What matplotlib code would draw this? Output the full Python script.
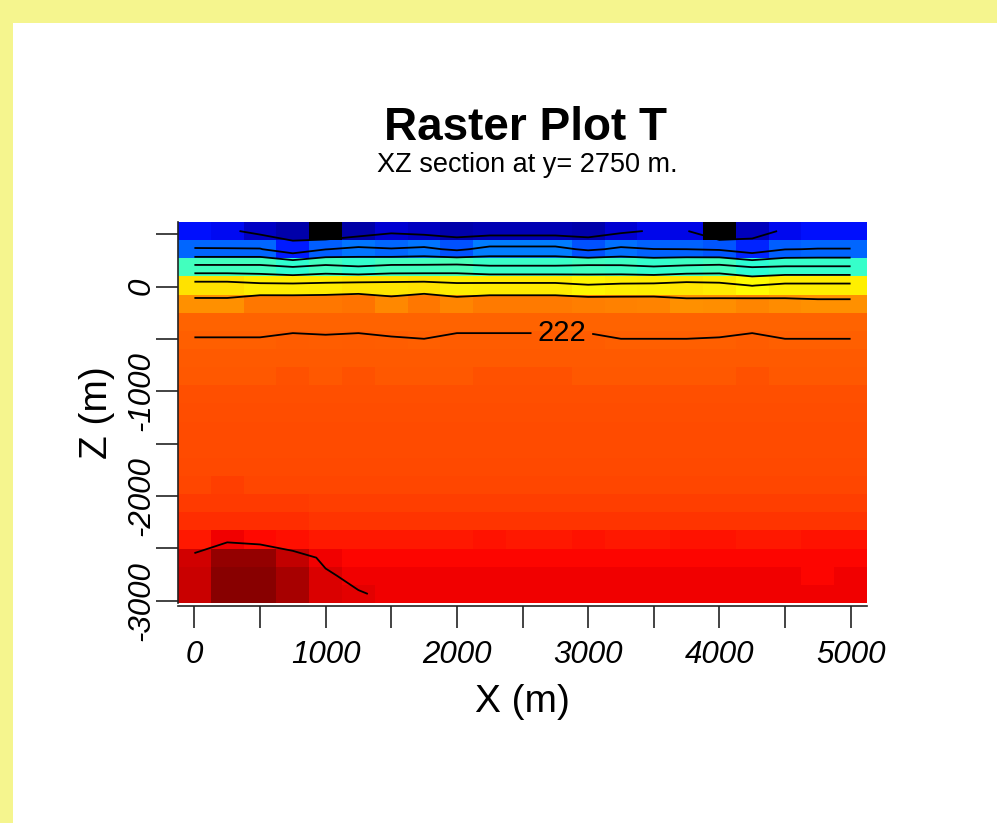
import numpy as np
import matplotlib.pyplot as plt
from matplotlib.colors import LinearSegmentedColormap, Normalize
from matplotlib.patches import Rectangle

plt.rcParams['font.family'] = ['Liberation Sans', 'DejaVu Sans']

# section grid: cell centres along X, vertical extent of the 21 model rows
x_centres = np.arange(0, 5001, 250)
z_top, z_bottom = 618, -3022
n_rows = 21

# temperature per cell, top row first, columns from x=0 to x=5000
T = np.array([
    [88, 85, 77, 73, 65, 72, 79, 76, 73, 74, 74, 74, 73, 79, 83.5, 83, 65, 75.7, 84, 88, 88],
    [103, 103, 103, 90, 101.5, 106, 103, 105.5, 99, 107, 107, 107, 99, 105, 102.2, 102, 100, 91, 101.5, 102.5, 102.5],
    [148, 148, 148, 143.3, 148, 144, 148, 148, 150, 145.5, 145.5, 145.5, 148, 147, 144, 147, 149, 142.5, 144.5, 144.5, 144.5],
    [191, 191, 187, 186.8, 188, 190, 190, 191, 187, 188, 188, 188, 183.5, 186, 187, 190, 188, 181.5, 186.5, 186.5, 186.5],
    [207, 207, 215, 215, 215, 216, 210, 215, 211, 214, 214, 214, 213, 212, 211.6, 207, 208, 210.6, 208.6, 207, 207],
    [219] * 21,
    [222.5, 222.5, 222.5, 223.8, 223.2, 223.8, 222.7, 222.2, 223.8, 223.8, 223.8, 223.8, 223.8, 222.2, 222.2, 222.2, 222.5, 223.8, 222.2, 222.2, 222.2],
    [224.5] * 21,
    [225, 225, 225, 227, 225, 227, 225, 225, 225, 227, 227, 227, 225, 225, 225, 225, 225, 227, 225, 225, 225],
    [228] * 21,
    [228.5] * 21,
    [229] * 21,
    [229.5] * 21,
    [230] * 21,
    [230.5, 232.5] + [230.5] * 19,
    [233] * 4 + [232.5] * 17,
    [234.5] * 4 + [233.5] * 17,
    [236, 240.5, 239, 237, 235.5, 235.5, 235.5, 235.5, 235.5, 236.5, 235.5, 235.5, 236.5, 235.5, 235.5, 236.5, 236.5, 235.5, 235.5, 236.5, 236.5],
    [244, 250, 250, 245, 240.8] + [239.5] * 16,
    [244.5, 252, 252, 248, 242.8] + [240.5] * 14 + [239.5, 240.5],
    [244.5, 252, 252, 248, 243.2, 242.4] + [241] * 15,
])

contour_levels = [82, 102, 122, 142, 162, 182, 202, 222, 242]
labelled_level = 222

# palette of the raster (temperature -> colour)
palette = [
    (68, '#000090'), (72, '#0000a8'), (76, '#0000c0'), (80, '#0000d8'),
    (84, '#0008f0'), (88, '#0010ff'), (96, '#0040ff'), (103, '#0068ff'),
    (120, '#00c0ff'), (135, '#10f8f0'), (145, '#38ffc8'), (150, '#48ffb8'),
    (165, '#a0ff60'), (180, '#ffff00'), (186, '#fff000'), (192, '#ffe000'),
    (200, '#ffb800'), (206, '#ff9400'), (210, '#ff8800'), (215, '#ff7800'),
    (219, '#ff6400'), (224, '#ff5c00'), (227, '#ff5200'), (229.5, '#ff4c00'),
    (231, '#ff4600'), (233, '#ff3c00'), (234.5, '#ff3000'), (235.5, '#ff2000'),
    (236.5, '#ff1400'), (239.5, '#ff0600'), (240.5, '#f80000'), (242.5, '#e40000'),
    (244.5, '#cc0000'), (248, '#aa0000'), (250, '#990000'), (252, '#880000'),
]
tmin, tmax = palette[0][0], palette[-1][0]
cmap = LinearSegmentedColormap.from_list(
    'temp', [((t - tmin) / (tmax - tmin), c) for t, c in palette])
cmap.set_under('black')

dz = (z_top - z_bottom) / n_rows
z_edges = z_top - dz * np.arange(n_rows + 1)
z_centres = z_edges[:-1] - dz / 2
x_edges = np.append(x_centres - 125, x_centres[-1] + 125)

fig = plt.figure(figsize=(9.97, 8.23), dpi=100, facecolor='#f5f58e')
fig.add_artist(Rectangle((13 / 997, 0), 1, 1 - 23 / 823, transform=fig.transFigure,
                         facecolor='white', edgecolor='none', zorder=-1))
ax = fig.add_axes([178 / 997, 220 / 823, 689 / 997, 381 / 823])

# axis frame first (moving a spine resets the ticks)
for side in ['top', 'right']:
    ax.spines[side].set_visible(False)
for side in ['left', 'bottom']:
    ax.spines[side].set_linewidth(1.2)
    ax.spines[side].set_color('#222222')
ax.spines['bottom'].set_position(('outward', 2))

ax.pcolormesh(x_edges, z_edges, T, cmap=cmap, norm=Normalize(tmin, tmax),
              shading='flat', antialiased=False, edgecolors='none')

zc_up, T_up = z_centres[::-1], T[::-1]
other_levels = [lv for lv in contour_levels if lv != labelled_level]
ax.contour(x_centres, zc_up, T_up, levels=other_levels,
           colors='black', linewidths=1.3)
cs_lab = ax.contour(x_centres, zc_up, T_up, levels=[labelled_level],
                    colors='black', linewidths=1.3)
ax.clabel(cs_lab, inline=True, fontsize=21, fmt='%d',
          manual=[(2800, -480)], inline_spacing=6)

ax.set_xlim(x_edges[0], x_edges[-1])
ax.set_ylim(z_bottom, z_top)

tick_font = dict(style='italic', size=22.5)
xt = np.arange(0, 5001, 500)
ax.set_xticks(xt)
ax.set_xticklabels([str(v) if v % 1000 == 0 else '' for v in xt],
                   fontdict=tick_font)
yt = np.arange(-3000, 501, 500)
ax.set_yticks(yt)
ax.set_yticklabels([str(v) if v % 1000 == 0 else '' for v in yt],
                   fontdict=tick_font, rotation=90, va='center')
ax.tick_params(length=15.5, width=1.2, color='#222222')
ax.tick_params(axis='x', pad=9)
ax.tick_params(axis='y', pad=0)

ax.set_xlabel('X (m)', fontsize=28, labelpad=10)
ax.set_ylabel('Z (m)', fontsize=28, labelpad=8)

fig.text(525 / 997, 1 - 128 / 823, 'Raster Plot T', fontsize=33, fontweight='bold',
         ha='center', va='center')
fig.text(527 / 997, 1 - 165 / 823, 'XZ section at y= 2750 m.', fontsize=19.5,
         ha='center', va='center')

fig.savefig('out.png', dpi=100, facecolor=fig.get_facecolor())
